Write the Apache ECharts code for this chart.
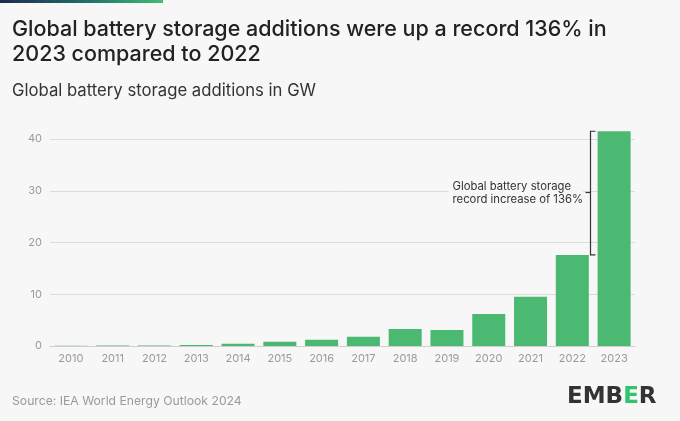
<!DOCTYPE html>
<html>
<head>
<meta charset="utf-8">
<script src="https://cdn.jsdelivr.net/npm/echarts@6/dist/echarts.min.js"></script>
<style>
  html, body { margin: 0; padding: 0; background: #f7f7f7; }
  #main { width: 680px; height: 421px; }
</style>
</head>
<body>
<div id="main"></div>
<script>
// data
var years = ['2010', '2011', '2012', '2013', '2014', '2015', '2016', '2017', '2018', '2019', '2020', '2021', '2022', '2023'];
var additionsGW = [0.03, 0.1, 0.1, 0.2, 0.45, 0.8, 1.2, 1.8, 3.3, 3.1, 6.2, 9.5, 17.6, 41.5];
var yTicks = [0, 10, 20, 30, 40];

var chart = echarts.init(document.getElementById('main'));
var font = 'Inter, "Noto Sans", sans-serif';

var option = {
  backgroundColor: '#f7f7f7',
  textStyle: { fontFamily: font },
  title: [{
    text: 'Global battery storage additions were up a record 136% in\n2023 compared to 2022',
    left: 12, top: 17, padding: 0,
    textStyle: { fontSize: 21.5, fontWeight: 500, color: '#222', lineHeight: 25, fontFamily: font }
  }, {
    text: 'Global battery storage additions in GW',
    left: 12, top: 82, padding: 0,
    textStyle: { fontSize: 16.7, fontWeight: 400, color: '#333', fontFamily: font }
  }, {
    text: 'Source: IEA World Energy Outlook 2024',
    left: 12, top: 395, padding: 0,
    textStyle: { fontSize: 12.2, fontWeight: 400, color: '#9a9a9a', fontFamily: font }
  }],
  grid: { left: 50, right: 45, top: 139, bottom: 75 },
  xAxis: {
    type: 'category',
    data: years,
    axisLine: { lineStyle: { color: '#cfcfcf', width: 1 } },
    axisTick: { alignWithLabel: true, length: 3, lineStyle: { color: '#bbb' } },
    axisLabel: { color: '#9a9a9a', fontSize: 11, margin: 7 }
  },
  yAxis: {
    type: 'value',
    min: yTicks[0],
    max: yTicks[yTicks.length - 1],
    interval: 10,
    axisLine: { show: false },
    axisTick: { show: false },
    axisLabel: { color: '#9a9a9a', fontSize: 11, margin: 8 },
    splitLine: { lineStyle: { color: '#dcdcdc', width: 1 } }
  },
  series: [{
    type: 'bar',
    data: additionsGW,
    barCategoryGap: '21%',
    clip: false,
    itemStyle: { color: '#4cb972' },
    silent: true
  }]
};

chart.setOption(option);

// bracket between the 2022 and 2023 bar tops
var pTop = chart.convertToPixel({ gridIndex: 0 }, [years[13], additionsGW[13]]);
var pLow = chart.convertToPixel({ gridIndex: 0 }, [years[12], additionsGW[12]]);
var bx = Math.round((pTop[0] + pLow[0]) / 2) - 2.5;
var midY = Math.round((pTop[1] + pLow[1]) / 2) - 0.5;
var ink = { stroke: '#333', lineWidth: 1.2 };

chart.setOption({
  graphic: [
    // top accent strip
    {
      type: 'rect', left: 0, top: 0, shape: { width: 163, height: 3 },
      style: {
        fill: new echarts.graphic.LinearGradient(0, 0, 1, 0, [
          { offset: 0, color: '#1d2b4f' }, { offset: 0.5, color: '#1f6b6a' }, { offset: 1, color: '#3fbf6f' }
        ])
      }
    },
    { type: 'polyline', shape: { points: [[bx + 5, pTop[1]], [bx, pTop[1]], [bx, pLow[1]], [bx + 5, pLow[1]]] }, style: ink, z: 20 },
    { type: 'line', shape: { x1: bx - 5, y1: midY, x2: bx, y2: midY }, style: ink, z: 20 },
    {
      type: 'text', x: bx - 142, y: midY - 12, z: 19,
      style: {
        text: 'Global battery storage\nrecord increase of 136%',
        font: '11.3px ' + font, fill: '#333', lineHeight: 13,
        align: 'left',
        backgroundColor: '#f7f7f7', padding: [0, 0, 0, 4]
      }
    },
    // EMBER logo
    {
      type: 'text', x: 567, y: 386, z: 20,
      style: {
        text: '{a|EMB}{g|E}{a|R}',
        rich: {
          a: { font: 'bold 23px "DejaVu Sans", Inter, sans-serif', fill: '#333' },
          g: { font: 'bold 23px "DejaVu Sans", Inter, sans-serif', fill: '#2fc46d' }
        }
      }
    }
  ]
});
</script>
</body>
</html>
